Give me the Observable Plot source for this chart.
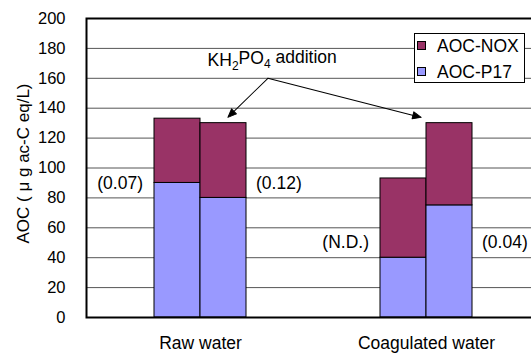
<!DOCTYPE html>
<html><head><meta charset="utf-8">
<script src="https://cdn.jsdelivr.net/npm/d3@7"></script>
<script src="https://cdn.jsdelivr.net/npm/@observablehq/plot@0.6"></script>
<style>
html,body{margin:0;padding:0;background:#fff;overflow:hidden}
#wrap{position:relative;width:531px;height:353px;font-family:"Liberation Sans",Arial,sans-serif;overflow:hidden}
#legend{position:absolute;left:414px;top:33px;width:109px;height:48px;border:1px solid #000;background:#fff;color:#000}
.sw{position:absolute;left:2px;width:7px;height:7px;border:1px solid #000}
.lt{position:absolute;left:22px;font-size:17.5px;line-height:1;white-space:nowrap}
</style></head>
<body>
<div id="wrap"></div>
<script>
// ---- data ----
const waters = ["Raw water", "Coagulated water"];
const treatments = ["none", "KH2PO4"];
const seriesNames = ["AOC-P17", "AOC-NOX"];
const seriesColors = ["#9999ff", "#993366"];
const legendOrder = ["AOC-NOX", "AOC-P17"];
const aocP17 = [90, 80, 40, 75];
const aocNOX = [43, 50, 53, 55];
const ratioLabels = ["(0.07)", "(0.12)", "(N.D.)", "(0.04)"];
const yTicks = [0, 20, 40, 60, 80, 100, 120, 140, 160, 180, 200];
const yLabel = "AOC ( \u03bc g ac-C eq/L)";
const noteParts = ["KH", "2", "PO", "4", " addition"];

// ---- table ----
const bars = aocP17.map((v, i) => ({
  water: waters[Math.floor(i / 2)],
  treatment: treatments[i % 2],
  ratio: ratioLabels[i]
}));
const rows = [];
bars.forEach((b, i) => rows.push({...b, series: seriesNames[0], value: aocP17[i]}));
bars.forEach((b, i) => rows.push({...b, series: seriesNames[1], value: aocNOX[i]}));
const noteText = noteParts.join("");

const ratioY = {"Raw water": 90, "Coagulated water": 50};

const filledArrow = {
  draw(context, l) {
    const h = 8.5, w = 3.5;
    context.moveTo(0, 0);
    context.lineTo(0, -l + h * 0.7);
    context.moveTo(0, -l);
    context.lineTo(-w, -l + h);
    context.lineTo(w, -l + h);
    context.closePath();
  }
};

const font = "'Liberation Sans', Arial, sans-serif";

const chart = Plot.plot({
  width: 531,
  height: 353,
  marginLeft: 86,
  marginRight: -3,
  marginTop: 18,
  marginBottom: 36,
  style: {fontFamily: font, fontSize: "16.5px", color: "#000", background: "#fff", overflow: "visible"},
  x: {domain: waters, paddingInner: 0.594, paddingOuter: 0.286, align: 0.52},
  y: {domain: [0, 200]},
  color: {domain: seriesNames, range: seriesColors},
  marks: [
    Plot.ruleY(yTicks.filter(t => t > 0 && t < 200), {stroke: "#555", strokeWidth: 1}),
    Plot.barY(rows.filter(d => d.treatment === treatments[0]), {
      x: "water", y: "value", fill: "series", stroke: "#000", strokeWidth: 1, insetLeft: 0, insetRight: 46
    }),
    Plot.barY(rows.filter(d => d.treatment === treatments[1]), {
      x: "water", y: "value", fill: "series", stroke: "#000", strokeWidth: 1, insetLeft: 46, insetRight: 0
    }),
    Plot.frame({stroke: "#000", strokeWidth: 2}),
    Plot.axisY({ticks: yTicks, tickSize: 0, tickPadding: 21, label: null, fontSize: 16.5}),
    Plot.axisX({tickSize: 0, tickPadding: 19, label: null, fontSize: 17.5}),
    Plot.text(bars.filter(d => d.treatment === treatments[0]), {
      x: "water", y: d => ratioY[d.water], text: "ratio", textAnchor: "end", dx: -57.5, fontSize: 17.5
    }),
    Plot.text(bars.filter(d => d.treatment === treatments[1]), {
      x: "water", y: d => ratioY[d.water], text: "ratio", textAnchor: "start", dx: 55.5, fontSize: 17.5
    }),
    Plot.text([noteText], {x: () => waters[0], y: () => 172, text: d => d, dx: 71.7, fontSize: 17.5}),
    Plot.vector([noteText], {x: () => waters[0], y: () => 160, dx: 67.4, anchor: "start",
      rotate: 225.7, length: 55.9, shape: filledArrow, stroke: "#000", fill: "#000", strokeWidth: 1}),
    Plot.vector([noteText], {x: () => waters[0], y: () => 160, dx: 67.4, anchor: "start",
      rotate: 104.3, length: 158.2, shape: filledArrow, stroke: "#000", fill: "#000", strokeWidth: 1}),
    Plot.text([yLabel], {frameAnchor: "left", textAnchor: "middle", rotate: -90, dx: -63, dy: -4.5,
      text: d => d, fontSize: 17})
  ]
});

const wrap = document.getElementById("wrap");
wrap.appendChild(chart);

// subscripts in the note
d3.select(chart).selectAll("text").each(function() {
  if (this.textContent === noteText) {
    const t = d3.select(this);
    t.text(null);
    noteParts.forEach((p, i) => {
      const sub = i === 1 || i === 3;
      const ts = t.append("tspan").text(p);
      if (sub) ts.attr("font-size", "12px").attr("dy", "0.3em");
      else if (i > 0) ts.attr("dy", "-0.3em");
    });
  }
});

// legend
const legend = document.createElement("div");
legend.id = "legend";
legendOrder.forEach((name, i) => {
  const sw = document.createElement("div");
  sw.className = "sw";
  sw.style.top = (7 + i * 25.5) + "px";
  sw.style.background = seriesColors[seriesNames.indexOf(name)];
  const lt = document.createElement("div");
  lt.className = "lt";
  lt.style.top = (4.4 + i * 25.4) + "px";
  lt.textContent = name;
  legend.appendChild(sw);
  legend.appendChild(lt);
});
wrap.appendChild(legend);
</script>
</body></html>
